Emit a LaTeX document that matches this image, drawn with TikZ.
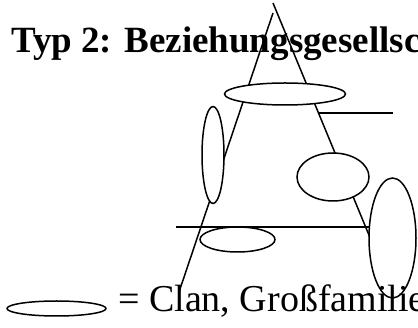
\documentclass[tikz,border=0pt]{standalone}
\usepackage{fontspec}
\setmainfont{Liberation Serif}
\usetikzlibrary{shapes.geometric}
\begin{document}
\begin{tikzpicture}[x=1pt,y=-1pt,
  ln/.style={line width=1.5pt},
  oval/.style={ellipse,draw,line width=1.5pt,fill=white,inner sep=0pt},
  label/.style={inner sep=0pt,anchor=base west,font=\fontsize{38}{40}\selectfont}]
  \useasboundingbox (0,0) rectangle (418,328);
  \clip (0,0) rectangle (418,328);

  % title
  \node[label,font=\fontsize{37}{40}\selectfont\bfseries] (title) at (11,53) {Typ 2: Beziehungsgesellschaft};

  % the two sides of the triangle and the cross lines
  \coordinate (apexL) at (273,13);
  \coordinate (apexR) at (273,3);
  \coordinate (footL) at (179,292);
  \coordinate (footR) at (395,298);
  \coordinate (hA) at (319,113);
  \coordinate (hB) at (393,113);
  \coordinate (hC) at (176,227);
  \coordinate (hD) at (372,227);
  \draw[ln] (apexL) -- (footL);
  \draw[ln] (apexR) -- (footR);
  \draw[ln] (hA) -- (hB);
  \draw[ln] (hC) -- (hD);

  % clans on the triangle
  \node[oval,minimum width=121pt,minimum height=22pt] (top) at (285,94) {};
  \node[oval,minimum width=22pt,minimum height=97pt] (left) at (213,155) {};
  \node[oval,minimum width=72pt,minimum height=48pt] (mid) at (333,177) {};
  \node[oval,minimum width=47pt,minimum height=120pt] (big) at (392.5,238) {};
  \node[oval,minimum width=75pt,minimum height=25pt] (low) at (237.5,239.5) {};

  % legend
  \node[oval,minimum width=99pt,minimum height=15pt] (key) at (56.5,308.5) {};
  \node[label] (keytext) at (118,312) {= Clan, Großfamilie};
\end{tikzpicture}
\end{document}
